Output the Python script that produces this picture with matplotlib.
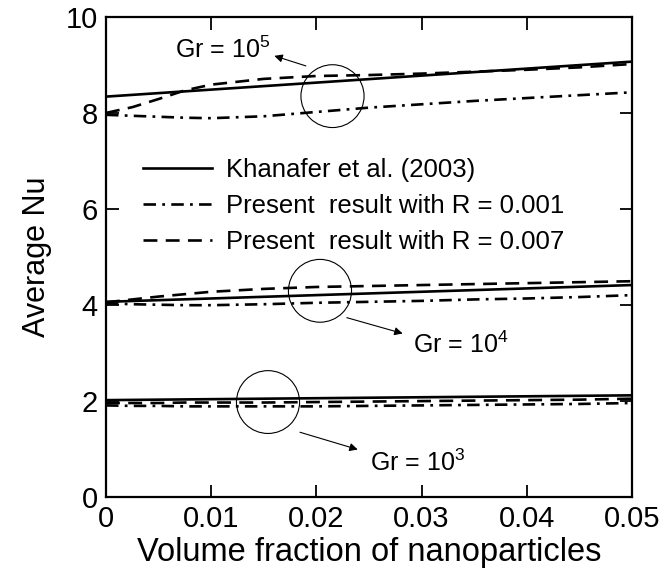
import matplotlib
matplotlib.use("Agg")
from matplotlib import pyplot as plt
from matplotlib.patches import Ellipse

plt.rcParams["font.family"] = ["Liberation Sans", "DejaVu Sans"]
plt.rcParams["mathtext.default"] = "regular"
plt.rcParams["lines.scale_dashes"] = False

# volume fraction grid
x_khanafer = [0.0, 0.05]
x_present = [0.0, 0.0025, 0.005, 0.0075, 0.01, 0.015, 0.02, 0.025, 0.03, 0.035, 0.04, 0.045, 0.05]

# Khanafer et al. (2003)
khanafer_gr5 = [8.34, 9.07]
khanafer_gr4 = [4.06, 4.41]
khanafer_gr3 = [2.01, 2.11]

# present result, R = 0.001
r001_gr5 = [7.96, 7.94, 7.92, 7.90, 7.89, 7.93, 8.02, 8.11, 8.18, 8.25, 8.31, 8.37, 8.43]
r001_gr4 = [4.03, 4.01, 4.00, 3.99, 3.99, 4.01, 4.04, 4.06, 4.08, 4.11, 4.13, 4.16, 4.20]
r001_gr3 = [1.90, 1.89, 1.89, 1.88, 1.88, 1.88, 1.88, 1.89, 1.90, 1.91, 1.92, 1.93, 1.95]

# present result, R = 0.007
r007_gr5 = [8.00, 8.12, 8.29, 8.47, 8.59, 8.71, 8.77, 8.79, 8.82, 8.86, 8.90, 8.95, 9.02]
r007_gr4 = [4.05, 4.11, 4.17, 4.22, 4.27, 4.33, 4.37, 4.39, 4.41, 4.43, 4.45, 4.47, 4.49]
r007_gr3 = [1.95, 1.95, 1.95, 1.96, 1.96, 1.96, 1.97, 1.98, 1.99, 2.00, 2.01, 2.02, 2.04]

labels = ["Khanafer et al. (2003)",
          "Present  result with R = 0.001",
          "Present  result with R = 0.007"]

x_ticks = [0, 0.01, 0.02, 0.03, 0.04, 0.05]
x_ticklabels = ["0", "0.01", "0.02", "0.03", "0.04", "0.05"]
y_ticks = [0, 2, 4, 6, 8, 10]

solid = dict(color="k", lw=1.9, ls="-")
dashdot = dict(color="k", lw=1.9, dashes=(9, 4.5, 2, 4.5))
dashed = dict(color="k", lw=1.9, dashes=(10, 6))

fig = plt.figure(figsize=(6.65, 5.77), dpi=100)
ax = fig.add_axes([0.1594, 0.1395, 0.791, 0.831])

lk, = ax.plot(x_khanafer, khanafer_gr5, label=labels[0], **solid)
ax.plot(x_khanafer, khanafer_gr4, **solid)
ax.plot(x_khanafer, khanafer_gr3, **solid)

l1, = ax.plot(x_present, r001_gr5, label=labels[1], **dashdot)
ax.plot(x_present, r001_gr4, **dashdot)
ax.plot(x_present, r001_gr3, **dashdot)

l7, = ax.plot(x_present, r007_gr5, label=labels[2], **dashed)
ax.plot(x_present, r007_gr4, **dashed)
ax.plot(x_present, r007_gr3, **dashed)

ax.set_xlim(0, 0.05)
ax.set_ylim(0, 10)
ax.set_xticks(x_ticks)
ax.set_xticklabels(x_ticklabels)
ax.set_yticks(y_ticks)
ax.tick_params(direction="in", length=9, width=1.3, top=True, right=True,
               labelsize=21, pad=6)
for s in ax.spines.values():
    s.set_linewidth(1.6)

ax.set_xlabel("Volume fraction of nanoparticles", fontsize=23.5, labelpad=3)
ax.set_ylabel("Average Nu", fontsize=22, labelpad=10)

ax.legend([lk, l1, l7], labels, loc="upper left", bbox_to_anchor=(0.07, 0.705),
          frameon=False, fontsize=18.5, handlelength=2.7, handletextpad=0.55,
          labelspacing=0.45, borderpad=0, borderaxespad=0)

# circles marking each Grashof group
for cx, cy in [(0.02153, 8.35), (0.02034, 4.29), (0.0154, 1.97)]:
    ax.add_patch(Ellipse((cx, cy), width=0.006, height=1.31, fill=False,
                         lw=0.8, color="k"))

arrow = dict(arrowstyle="-|>", color="k", lw=0.8, mutation_scale=12, shrinkA=0, shrinkB=0)
ax.annotate("", xy=(0.0160, 9.19), xytext=(0.0190, 8.98), arrowprops=arrow)
ax.annotate("", xy=(0.0282, 3.40), xytext=(0.02289, 3.73), arrowprops=arrow)
ax.annotate("", xy=(0.02393, 0.98), xytext=(0.01844, 1.34), arrowprops=arrow)

ax.text(0.0066, 9.31, "Gr = 10$^{5}$", fontsize=18, va="center")
ax.text(0.0292, 3.16, "Gr = 10$^{4}$", fontsize=18, va="center")
ax.text(0.0251, 0.70, "Gr = 10$^{3}$", fontsize=18, va="center")

fig.savefig("out.png", dpi=100)
